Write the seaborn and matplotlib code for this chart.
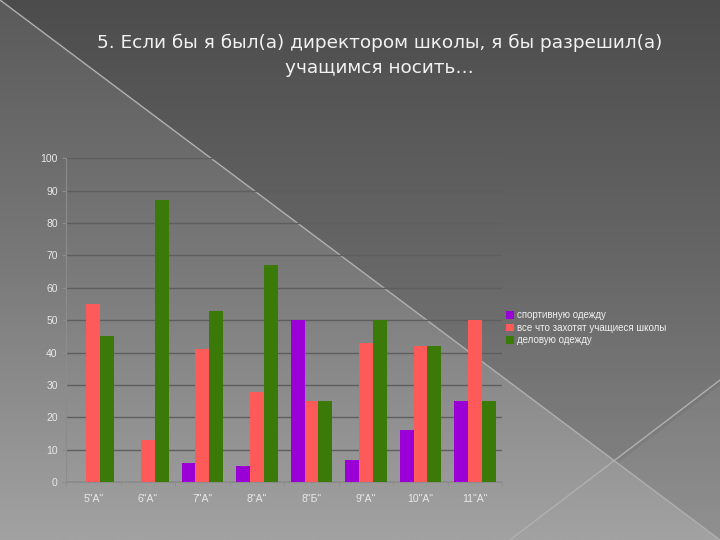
import numpy as np
import pandas as pd
import matplotlib
matplotlib.use("Agg")
import matplotlib.pyplot as plt
from matplotlib.colors import LinearSegmentedColormap
from matplotlib.patches import Polygon, Patch
import seaborn as sns

classes = ['5"А"', '6"А"', '7"А"', '8"А"', '8"Б"', '9"А"', '10"А"', '11"А"']
series = ["спортивную одежду", "все что захотят учащиеся школы", "деловую одежду"]
sport = [0, 0, 6, 5, 50, 7, 16, 25]
anything = [55, 13, 41, 28, 25, 43, 42, 50]
business = [45, 87, 53, 67, 25, 50, 42, 25]
colors = ["#9A00D6", "#FF5A5A", "#3B7A08"]

df = pd.DataFrame({
    "class": classes * 3,
    "series": [series[0]] * 8 + [series[1]] * 8 + [series[2]] * 8,
    "value": sport + anything + business,
})

sns.set_style("white")
plt.rcParams["font.family"] = ["Liberation Sans", "DejaVu Sans"]

fig = plt.figure(figsize=(7.2, 5.4), dpi=100)

# slide background
bg = fig.add_axes([0, 0, 1, 1])
bg.set_xlim(0, 720)
bg.set_ylim(540, 0)
bg.axis("off")
grad = np.linspace(0, 1, 256).reshape(-1, 1)
cmap = LinearSegmentedColormap.from_list("bg", ["#5a5a5a", "#7a7a7a", "#a2a2a2"])
bg.imshow(grad, aspect="auto", cmap=cmap, extent=[0, 720, 540, 0], zorder=0)
bg.add_patch(Polygon([[0, 0], [720, 0], [720, 540]], closed=True,
                     facecolor="black", alpha=0.15, edgecolor="none", zorder=1))
bg.add_patch(Polygon([[720, 540], [618, 463], [720, 385]], closed=True,
                     facecolor="white", alpha=0.06, edgecolor="none", zorder=1))
bg.plot([0, 720], [0, 540], color="#b0b0b0", lw=1, zorder=2)
bg.plot([510, 728], [540, 374], color="#b0b0b0", lw=1, zorder=2)

fig.text(0.527, 0.897, "5. Если бы я был(а) директором школы, я бы разрешил(а)\nучащимся носить…",
         ha="center", va="center", fontsize=13.3, color="#f2f2f2", linespacing=1.5,
         family=["DejaVu Sans"])

ax = fig.add_axes([0.0917, 0.107, 0.606, 0.6])
ax.set_facecolor("none")
sns.barplot(data=df, x="class", y="value", hue="series", hue_order=series,
            order=classes, palette=colors, width=0.76, saturation=1,
            linewidth=0, ax=ax, legend=False, zorder=3)

ax.set_ylim(0, 100)
ax.set_xlim(-0.5, len(classes) - 0.5)
ax.set_yticks(range(0, 101, 10))
ax.yaxis.grid(True, color="#5e5e5e", lw=1)
ax.set_axisbelow(True)
for s in ["top", "right"]:
    ax.spines[s].set_visible(False)
ax.spines["left"].set_color("#8c8c8c")
ax.spines["bottom"].set_color("#8c8c8c")
ax.set_xlabel("")
ax.set_ylabel("")
ax.tick_params(axis="y", left=True, length=3, color="#8c8c8c", labelsize=7.5,
               labelcolor="#e8e8e8", pad=3)
ax.tick_params(axis="x", bottom=False, labelsize=7.5, labelcolor="#e8e8e8", pad=5)
ax.set_xticks(np.arange(-0.5, len(classes)), minor=True)
ax.tick_params(axis="x", which="minor", bottom=True, length=3, color="#8c8c8c")

handles = [Patch(facecolor=c, edgecolor="none") for c in colors]
fig.legend(handles, series, loc="upper left", bbox_to_anchor=(0.703, 0.425),
           frameon=False, fontsize=7, labelcolor="#f0f0f0",
           handlelength=0.8, handleheight=0.8, handletextpad=0.3,
           labelspacing=0.25, borderaxespad=0, borderpad=0)

fig.savefig("out.png", dpi=100)
